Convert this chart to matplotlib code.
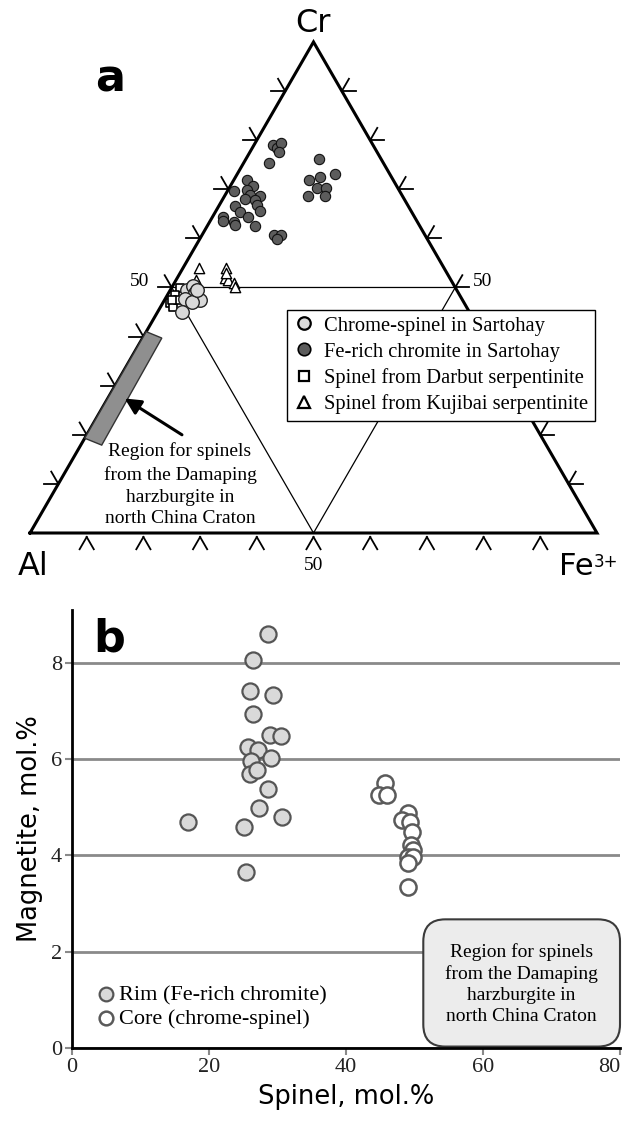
import numpy as np
import matplotlib
matplotlib.use("Agg")
import matplotlib.pyplot as plt
from matplotlib.lines import Line2D
from matplotlib.patches import Polygon, FancyBboxPatch
from matplotlib.transforms import IdentityTransform, ScaledTranslation

SERIF = "Liberation Serif"
SANS = "DejaVu Sans"

# ---- panel a: ternary Cr - Al - Fe3+ (mol.%) ----
fe_rich_cr = [79.0, 78.4, 79.5, 77.5, 75.4, 76.2, 71.9, 72.4, 73.1, 70.2, 70.2, 68.7, 68.7,
              69.7, 71.9, 70.7, 69.9, 68.7, 68.8, 68.0, 67.8, 66.8, 66.6, 65.6, 65.3, 64.4,
              64.4, 63.6, 63.4, 62.7, 62.5, 60.7, 60.7, 59.8]
fe_rich_fe = [3.4, 4.3, 4.5, 5.2, 4.5, 12.8, 13.3, 14.9, 17.2, 15.5, 17.1, 14.6, 17.7,
              1.1, 2.3, 3.9, 3.3, 6.2, 4.4, 3.9, 5.8, 6.6, 2.9, 7.8, 4.4, 6.2,
              1.9, 2.2, 4.2, 4.8, 8.4, 12.6, 14.0, 13.6]

chrome_cr = [49.5, 50.2, 48.8, 47.5, 47.6, 47.1, 45.1, 49.5]
chrome_fe = [2.9, 3.7, 4.7, 6.3, 3.5, 5.0, 4.2, 4.7]

darbut_cr = [49.8, 48.5, 46.9, 46.1, 47.5, 47.5]
darbut_fe = [1.5, 1.3, 1.2, 2.2, 2.4, 1.3]

kujibai_cr = [53.9, 51.5, 53.9, 51.9, 51.5, 51.0, 50.0, 52.9]
kujibai_fe = [2.9, 3.6, 7.6, 8.5, 9.2, 10.4, 11.2, 8.2]

damaping_cr = [41.0, 39.7, 17.9, 19.3]
damaping_fe = [0.0, 3.4, 3.7, 0.0]

# ---- panel b: magnetite vs spinel (mol.%) ----
rim_spinel = [28.6, 26.4, 26.0, 29.4, 26.4, 28.9, 30.5, 25.7, 27.2, 29.1, 26.1, 26.0, 27.0,
              28.6, 27.4, 30.7, 17.0, 25.1, 25.4]
rim_magnetite = [8.59, 8.06, 7.41, 7.32, 6.93, 6.49, 6.47, 6.25, 6.18, 6.01, 5.95, 5.68, 5.77,
                 5.37, 4.99, 4.80, 4.68, 4.59, 3.66]
core_spinel = [45.7, 44.8, 46.0, 49.1, 48.2, 49.4, 49.6, 49.5, 49.8, 49.1, 49.8, 49.1, 49.1]
core_magnetite = [5.49, 5.26, 5.25, 4.87, 4.73, 4.70, 4.49, 4.21, 4.11, 3.97, 3.97, 3.83, 3.35]

REGION_TEXT = "Region for spinels\nfrom the Damaping\nharzburgite in\nnorth China Craton"
H = np.sqrt(3) / 2


def tern(cr, fe):
    cr = np.asarray(cr) / 100.0
    fe = np.asarray(fe) / 100.0
    return fe + cr / 2, cr * H


fig = plt.figure(figsize=(6.27, 11.23), dpi=100)

# ---------------- panel a ----------------
ax_a = fig.add_axes([0, 1 - 590 / 1123, 1, 590 / 1123])
ax_a.set_xlim(-30 / 567, 597 / 567)
ax_a.set_ylim(-57 / 567, 533 / 567)
ax_a.axis("off")

ax_a.plot([0, 1, 0.5, 0], [0, 0, H, 0], color="black", lw=2.2, solid_joinstyle="miter", zorder=2)
ax_a.plot([0.25, 0.75, 0.5, 0.25], [H / 2, H / 2, 0, H / 2], color="black", lw=0.9, zorder=2)

L = 0.025
gap = 0.007
for k in range(1, 10):
    f = k / 10
    segs = []
    p = (f / 2, f * H)
    segs += [(p, 180), (p, 120)]
    p = (1 - f / 2, f * H)
    segs += [(p, 0), (p, 60)]
    p = (f, -gap)
    segs += [(p, 240), (p, 300)]
    for (px, py), ang in segs:
        a = np.deg2rad(ang)
        ax_a.plot([px, px + L * np.cos(a)], [py, py + L * np.sin(a)], color="black", lw=1.3)

rx, ry = tern(damaping_cr, damaping_fe)
ax_a.add_patch(Polygon(np.column_stack([rx, ry]), closed=True, facecolor="#8f8f8f",
                       edgecolor="#333333", lw=1.0, zorder=3))
tip = tern(27.4, 3.0)
tail = tern(20.0, 16.8)
ax_a.annotate("", xy=tip, xytext=tail,
              arrowprops=dict(arrowstyle="-|>", color="black", lw=2.2, mutation_scale=24,
                              shrinkA=0, shrinkB=0), zorder=4)
ax_a.text(150 / 567, 48 / 567, REGION_TEXT, ha="center", va="center", family=SERIF,
          fontsize=14, linespacing=1.38)

x, y = tern(darbut_cr, darbut_fe)
ax_a.scatter(x, y, marker="s", s=32, facecolor="white", edgecolor="black", lw=1.2, zorder=5)
x, y = tern(chrome_cr, chrome_fe)
ax_a.scatter(x, y, marker="o", s=95, facecolor="#d9d9d9", edgecolor="#222222", lw=1.0, zorder=6)
x, y = tern(kujibai_cr, kujibai_fe)
ax_a.scatter(x, y, marker="^", s=55, facecolor="white", edgecolor="black", lw=1.0, zorder=5)
x, y = tern(fe_rich_cr, fe_rich_fe)
ax_a.scatter(x, y, marker="o", s=55, facecolor="#5c5c5c", edgecolor="#111111", lw=0.8, zorder=5)

ax_a.text(0.5, 501 / 567, "Cr", ha="center", va="baseline", family=SANS, fontsize=23)
ax_a.text(-12 / 567, -42 / 567, "Al", ha="left", va="baseline", family=SANS, fontsize=23)
fe_lab = ax_a.text(529 / 567, -42 / 567, "Fe", ha="left", va="baseline", family=SANS, fontsize=22)
ax_a.annotate("3+", xy=(1.0, 1.0), xycoords=fe_lab, xytext=(0.3, -1), textcoords="offset points",
              ha="left", va="top", family=SANS, fontsize=12)
ax_a.text(0.5, -32 / 567, "50", ha="center", va="center", family=SERIF, fontsize=14)
ax_a.text(110 / 567, 251 / 567, "50", ha="center", va="center", family=SERIF, fontsize=14)
ax_a.text(453 / 567, 251 / 567, "50", ha="center", va="center", family=SERIF, fontsize=14)

handles = [
    Line2D([], [], ls="none", marker="o", ms=9, mfc="#d9d9d9", mec="black", mew=1.6),
    Line2D([], [], ls="none", marker="o", ms=9, mfc="#5c5c5c", mec="black", mew=1.2),
    Line2D([], [], ls="none", marker="s", ms=7, mfc="white", mec="black", mew=1.6),
    Line2D([], [], ls="none", marker="^", ms=9, mfc="white", mec="black", mew=1.6),
]
labels = ["Chrome-spinel in Sartohay", "Fe-rich chromite in Sartohay",
          "Spinel from Darbut serpentinite", "Spinel from Kujibai serpentinite"]
leg = ax_a.legend(handles, labels, loc="upper left", bbox_to_anchor=(287 / 627, 1 - 310 / 590),
                  borderaxespad=0, frameon=True, fancybox=False, edgecolor="black", framealpha=1,
                  prop={"family": SERIF, "size": 14.8}, handlelength=1.1, handletextpad=0.42,
                  labelspacing=0.32, borderpad=0.3)
leg.get_frame().set_linewidth(1.0)
leg.set_zorder(7)

fig.text(95 / 627, 1 - 92 / 1123, "a", family=SANS, fontsize=32, fontweight="bold", va="baseline")

# ---------------- panel b ----------------
ax_b = fig.add_axes([71.7 / 627, 1 - 1048 / 1123, 548.3 / 627, 438 / 1123])
ax_b.set_xlim(0, 80)
ax_b.set_ylim(0, 9.09)
ax_b.set_xticks([0, 20, 40, 60, 80])
ax_b.set_yticks([0, 2, 4, 6, 8])
for s in ("top", "right"):
    ax_b.spines[s].set_visible(False)
for s in ("left", "bottom"):
    ax_b.spines[s].set_linewidth(2)
    ax_b.spines[s].set_zorder(6)
ax_b.set_axisbelow(True)
ax_b.yaxis.grid(True, color="#8a8a8a", lw=2)
ax_b.tick_params(length=5, width=1.5, color="#8a8a8a", labelsize=16, labelcolor="#222222", pad=2)
for lab in ax_b.get_xticklabels() + ax_b.get_yticklabels():
    lab.set_family(SERIF)
last = ax_b.get_xticklabels()[-1]
last.set_transform(last.get_transform() + ScaledTranslation(-8 / 72, 0, fig.dpi_scale_trans))

ax_b.scatter(rim_spinel, rim_magnetite, s=135, facecolor="#d9d9d9", edgecolor="#555555",
             lw=1.6, zorder=4, label="Rim (Fe-rich chromite)")
ax_b.scatter(core_spinel, core_magnetite, s=135, facecolor="white", edgecolor="#5a5a5a",
             lw=1.8, zorder=4, label="Core (chrome-spinel)")

ax_b.set_xlabel("Spinel, mol.%", family=SANS, fontsize=18.5, labelpad=5)
ax_b.set_ylabel("Magnetite, mol.%", family=SANS, fontsize=18.5, labelpad=6)

ax_b.legend(loc="lower left", bbox_to_anchor=(25 / 548.3, 19 / 438), borderaxespad=0,
            frameon=False, prop={"family": SERIF, "size": 16}, handlelength=0.8,
            handletextpad=0.2, labelspacing=0.15, borderpad=0, markerscale=0.85)

# rounded region box, drawn in pixel space so the corners stay round
x0, y0 = ax_b.transData.transform((51.3, 0.03))
x1, y1 = ax_b.transData.transform((80.0, 2.67))
box = FancyBboxPatch((x0, y0), x1 - x0, y1 - y0, boxstyle="round,pad=0,rounding_size=22",
                     transform=IdentityTransform(), facecolor="#ececec", edgecolor="#3a3a3a",
                     lw=1.5, zorder=5, clip_on=False)
ax_b.add_patch(box)
ax_b.text(65.6, 1.33, REGION_TEXT, ha="center", va="center", family=SERIF, fontsize=14,
          linespacing=1.3, zorder=6)

fig.text(93 / 627, 1 - 652 / 1123, "b", family=SANS, fontsize=32, fontweight="bold", va="baseline")

fig.savefig("out.png", dpi=100)
